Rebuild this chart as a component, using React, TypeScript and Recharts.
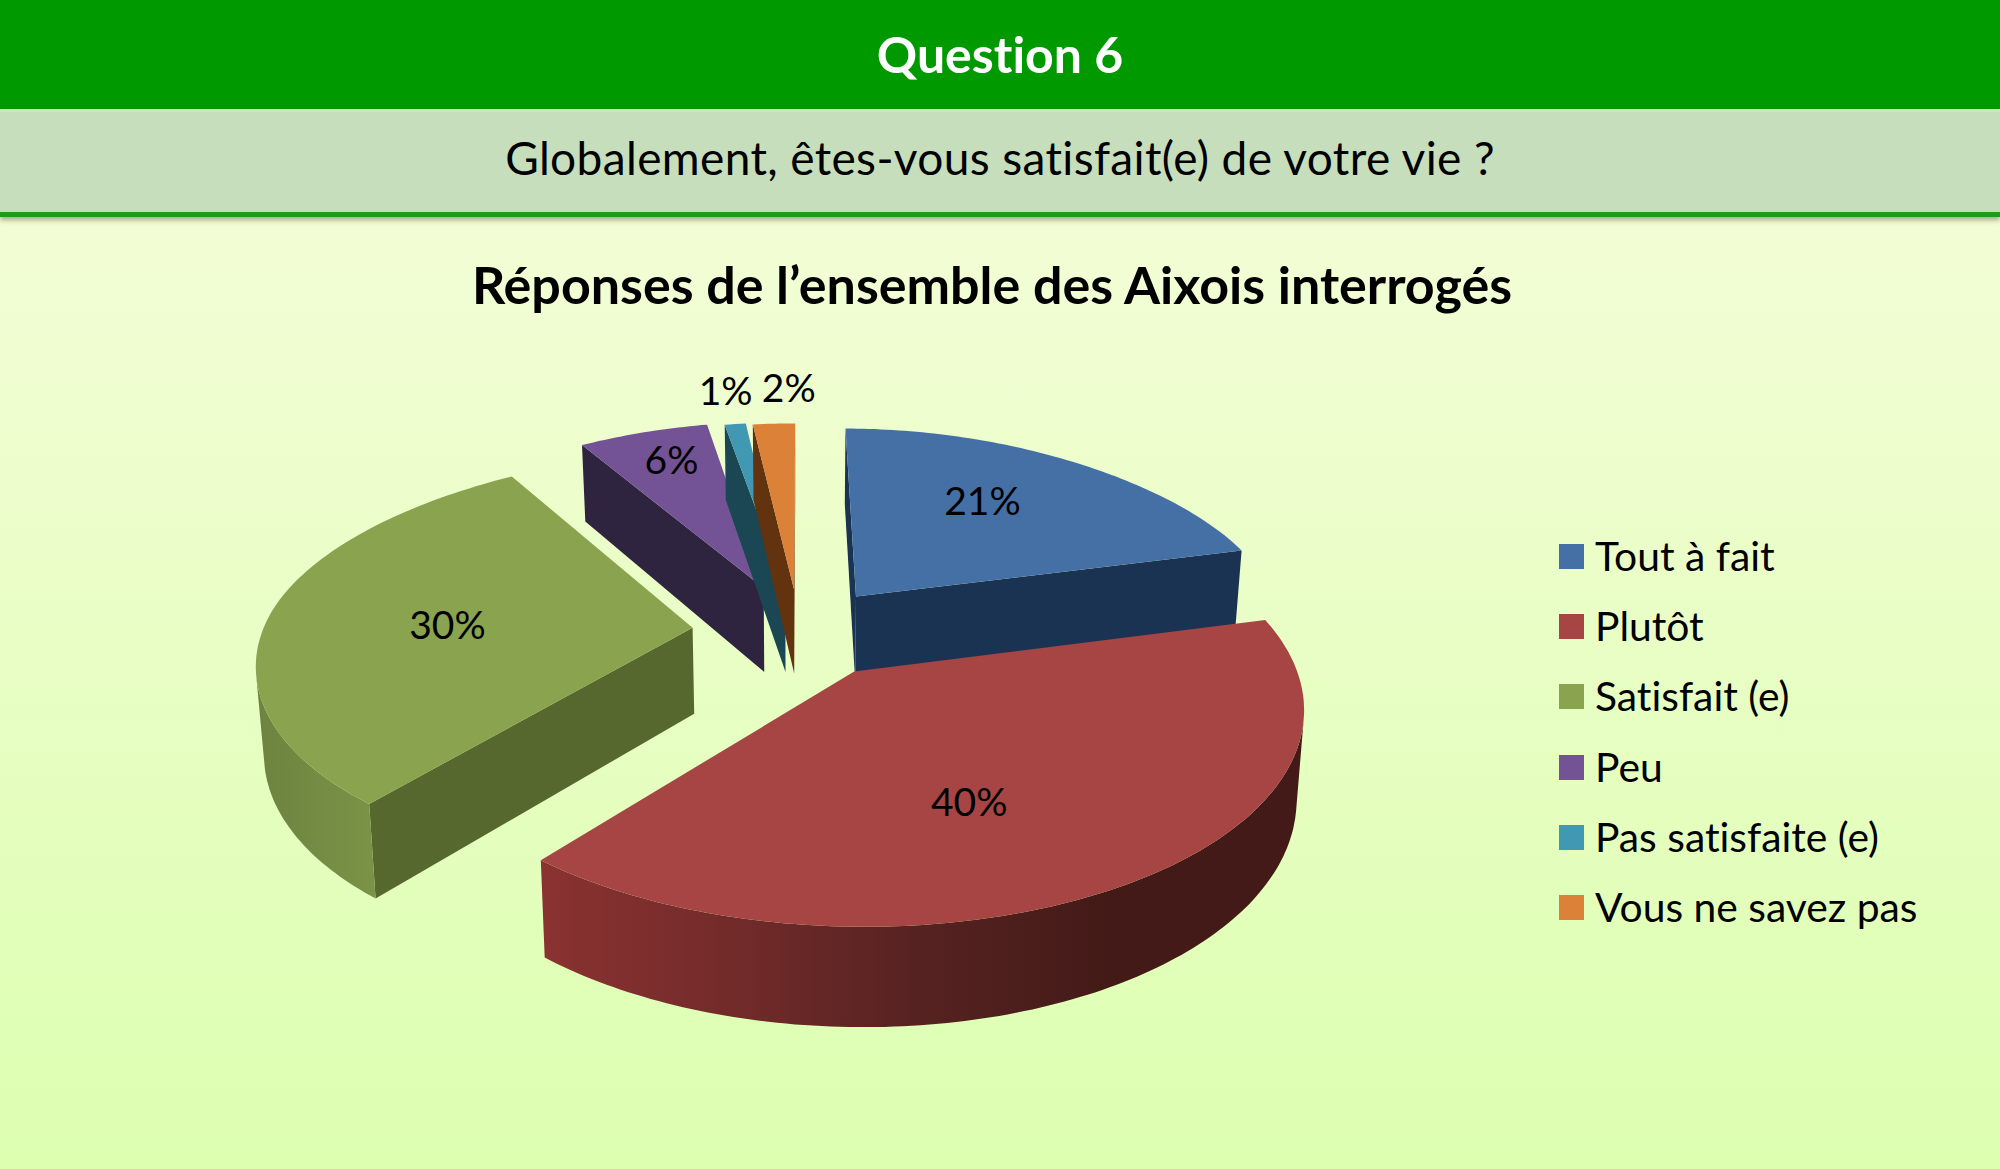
import { PieChart, Pie, Legend } from "recharts"

const categories = ["Tout à fait", "Plutôt", "Satisfait (e)", "Peu", "Pas satisfaite (e)", "Vous ne savez pas"]
const shares = [21, 40, 30, 6, 1, 2]
const topColors = ["#4570a6", "#a64543", "#8aa34f", "#735396", "#4198b2", "#dc8238"]
const cutColors = ["#1b3353", "#5a2423", "#57682f", "#2f2440", "#1a4753", "#633310"]
const rimStops: string[][] = [
  ["#1b3353", "#1b3353"],
  ["#8a3231", "#722b2a", "#552221", "#431a17", "#431a17"],
  ["#6d8340", "#7a9346"],
  ["#2f2440", "#2f2440"],
  ["#1a4753", "#1a4753"],
  ["#633310", "#633310"],
]
const explosion = [0.22, 0.23, 0.25, 0.235, 0.22, 0.21]
const labelRadius = [0.5, 0.55, 0.57, 0.72, 1.3, 1.25]
const labelNudge = [
  [11, -25],
  [-30, 22],
  [-3, 3],
  [0, -13],
  [0, 7],
  [18, -2],
]

const chartData = categories.map((name, i) => ({ name, value: shares[i], fill: topColors[i] }))

// fake 3D view: disc coordinates (radius = 1) to screen
const CX = 799.6
const CY = 631
const A = 430
const B = 203
const K = 0.151
const H = 86

function project(u: number, v: number, z = 0) {
  const s = 1 / (1 + K * v)
  const zs = 1 / (1 + 0.12 * v)
  const back = Math.max(v, 0)
  return [CX + A * u * s * (1 - 0.05 * back * back) * (1 - 0.015 * z), CY - B * v * s + H * z * zs]
}

const rad = (d: number) => (d * Math.PI) / 180
const pts = (list: number[][]) => list.map((p) => p[0].toFixed(1) + "," + p[1].toFixed(1)).join(" ")

function area(list: number[][]) {
  let sum = 0
  list.forEach((p, i) => {
    const q = list[(i + 1) % list.length]
    sum += p[0] * q[1] - q[0] * p[1]
  })
  return sum
}

function Wedge3D(props: any) {
  const i = categories.indexOf(props.name)
  // recharts angles run counter-clockwise from east, the picture clockwise from north
  const t0 = 90 - props.startAngle
  const t1 = 90 - props.endAngle
  const mid = rad((t0 + t1) / 2)
  const ex = explosion[i] * Math.sin(mid)
  const ey = explosion[i] * Math.cos(mid)
  const steps = Math.max(3, Math.ceil(t1 - t0))
  const rim: number[][] = []
  for (let s = 0; s <= steps; s++) {
    const t = rad(t0 + ((t1 - t0) * s) / steps)
    rim.push([ex + Math.sin(t), ey + Math.cos(t)])
  }
  const at = (p: number[], z = 0) => project(p[0], p[1], z)
  const apex = [ex, ey]
  const top = [apex, ...rim].map((p) => at(p))
  const quad = (a: number[], b: number[]) => [at(a), at(b), at(b, 1), at(a, 1)]

  const cuts = [quad(apex, rim[0]), quad(rim[rim.length - 1], apex)].filter((q) => area(q) < 0)
  // the visible part of the outer wall, as one polygon so no seams show
  const seen = rim.filter((_, s) => s < steps && area(quad(rim[s], rim[s + 1])) < 0)
  const lastSeen = rim.findLastIndex((_, s) => s < steps && area(quad(rim[s], rim[s + 1])) < 0)
  const wallRim = lastSeen >= 0 ? [...seen, rim[lastSeen + 1]] : []
  const wall = [...wallRim.map((p) => at(p)), ...wallRim.map((p) => at(p, 1)).reverse()]
  const xs = wall.map((p) => p[0])
  const gradId = "rim" + i

  return (
    <g>
      {wall.length > 0 && (
        <defs>
          <linearGradient id={gradId} gradientUnits="userSpaceOnUse" x1={Math.min(...xs)} x2={Math.max(...xs)} y1={0} y2={0}>
            {rimStops[i].map((c, n) => (
              <stop key={n} offset={n / (rimStops[i].length - 1)} stopColor={c} />
            ))}
          </linearGradient>
        </defs>
      )}
      {cuts.map((q, n) => (
        <polygon key={n} points={pts(q)} fill={cutColors[i]} />
      ))}
      {wall.length > 0 && <polygon points={pts(wall)} fill={`url(#${gradId})`} />}
      <polygon points={pts(top)} fill={props.fill} />
    </g>
  )
}

function renderLabel(props: any) {
  const i = categories.indexOf(props.name)
  const t = rad(90 - props.midAngle)
  const r = explosion[i] + labelRadius[i]
  const p = project(r * Math.sin(t), r * Math.cos(t))
  return (
    <text
      x={p[0] + labelNudge[i][0]}
      y={p[1] + labelNudge[i][1]}
      textAnchor="middle"
      dominantBaseline="central"
      fontSize={39}
      fill="#000"
    >
      {props.value}%
    </text>
  )
}

function renderLegend(props: any) {
  return (
    <div>
      {props.payload.map((item: any) => (
        <div key={item.value} style={{ display: "flex", alignItems: "center", height: 70.3 }}>
          <span style={{ width: 25, height: 25, background: item.color, marginRight: 11 }} />
          <span style={{ fontSize: 40.8, color: "#000", marginTop: -2 }}>{item.value}</span>
        </div>
      ))}
    </div>
  )
}

export default function App() {
  return (
    <div
      style={{
        position: "absolute",
        left: 0,
        top: 0,
        width: 2000,
        height: 1169,
        overflow: "hidden",
        fontFamily: "Lato, sans-serif",
        fontVariantLigatures: "none",
        background: "linear-gradient(180deg, #f3fdd6 18%, #dcffb0 100%)",
      }}
    >
      <div
        style={{
          position: "absolute",
          left: 0,
          top: 0,
          width: 2000,
          height: 109,
          background: "#009900",
          color: "#fff",
          fontWeight: 700,
          fontSize: 50,
          lineHeight: "109px",
          textAlign: "center",
        }}
      >
        Question 6
      </div>
      <div
        style={{
          position: "absolute",
          left: 0,
          top: 109,
          width: 2000,
          height: 103,
          background: "#c6debc",
          borderBottom: "5px solid #1f9a1f",
          boxShadow: "0 3px 5px rgba(90,110,70,0.55), inset 0 3px 0 #d0e2c8",
          fontSize: 46,
          letterSpacing: 0.37,
          lineHeight: "98px",
          textAlign: "center",
        }}
      >
        Globalement, êtes-vous satisfait(e) de votre vie ?
      </div>
      <div
        style={{
          position: "absolute",
          left: -8,
          top: 251,
          width: 2000,
          fontSize: 52,
          fontWeight: 700,
          lineHeight: "66px",
          textAlign: "center",
        }}
      >
        Réponses de l’ensemble des Aixois interrogés
      </div>
      <div style={{ position: "absolute", left: 0, top: 0 }}>
        <PieChart width={2000} height={1169} margin={{ top: 0, right: 0, bottom: 0, left: 0 }}>
          <Pie
            data={chartData}
            dataKey="value"
            nameKey="name"
            cx={CX}
            cy={CY}
            outerRadius={A}
            startAngle={90}
            endAngle={-270}
            stroke="none"
            isAnimationActive={false}
            shape={Wedge3D}
            inactiveShape={Wedge3D}
            label={renderLabel}
            labelLine={false}
          />
          <Legend
            content={renderLegend}
            itemSorter={null}
            wrapperStyle={{ left: 1559, top: 521, width: 420, bottom: "auto", right: "auto" }}
          />
        </PieChart>
      </div>
    </div>
  )
}
